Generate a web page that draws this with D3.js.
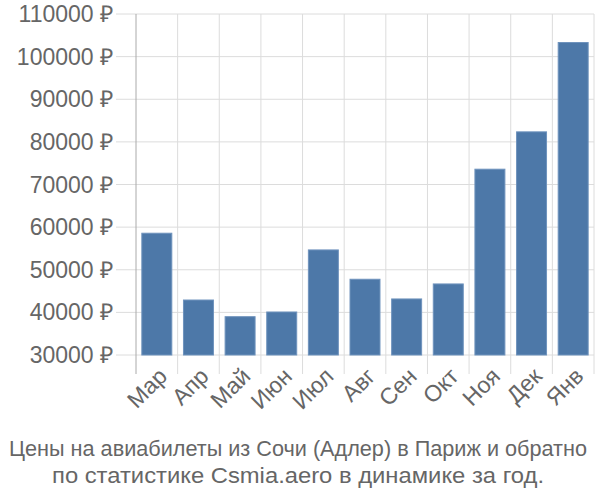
<!DOCTYPE html>
<html><head><meta charset="utf-8">
<script src="https://cdn.jsdelivr.net/npm/d3@7"></script>
<style>body{margin:0;background:#fff}svg{display:block}</style>
</head><body>
<svg id="c" width="600" height="500"></svg>
<script>
const months = ["Мар","Апр","Май","Июн","Июл","Авг","Сен","Окт","Ноя","Дек","Янв"];
const prices = [58570, 42900, 38990, 40090, 54650, 47770, 43150, 46670, 73590, 82350, 103310];
const yTicks = [30000,40000,50000,60000,70000,80000,90000,100000,110000];
const titleLines = ["Цены на авиабилеты из Сочи (Адлер) в Париж и обратно","по статистике Csmia.aero в динамике за год."];

const svg = d3.select("#c");
const font = "'Liberation Sans', Arial, sans-serif";
const x = d3.scaleBand().domain(months).range([136, 594]).padding(0);
const y = d3.scaleLinear().domain([30000, 110000]).range([355, 14]);

// horizontal grid
svg.append("g").selectAll("line").data(yTicks).join("line")
  .attr("x1", 116).attr("x2", 594)
  .attr("y1", d => y(d)).attr("y2", d => y(d))
  .attr("stroke", "#dcdcdc").attr("stroke-width", 1);
// vertical grid
const vx = months.map(m => x(m)).concat([x.range()[1]]);
svg.append("g").selectAll("line").data(vx.slice(1)).join("line")
  .attr("x1", d => d).attr("x2", d => d)
  .attr("y1", 14).attr("y2", 374)
  .attr("stroke", "#dcdcdc").attr("stroke-width", 1);
// left axis line
svg.append("line").attr("x1", 136).attr("x2", 136).attr("y1", 14).attr("y2", 374)
  .attr("stroke", "#aaaaaa").attr("stroke-width", 1);

// bars
const bw = x.bandwidth() * 0.72;
svg.append("g").selectAll("rect").data(months).join("rect")
  .attr("x", m => x(m) + (x.bandwidth() - bw) / 2)
  .attr("width", bw)
  .attr("y", (m, i) => y(prices[i]))
  .attr("height", (m, i) => y(30000) - y(prices[i]))
  .attr("fill", "#4d78a8").attr("stroke", "#6f93bd").attr("stroke-width", 1);

// y labels
svg.append("g").selectAll("text").data(yTicks).join("text")
  .attr("x", 113).attr("y", d => y(d)).attr("dy", "0.35em")
  .attr("text-anchor", "end").attr("fill", "#666").attr("font-family", font).attr("font-size", 23)
  .text(d => d + " ₽");

// x labels
svg.append("g").selectAll("text").data(months).join("text")
  .attr("text-anchor", "end").attr("fill", "#666").attr("font-family", font).attr("font-size", 23)
  .attr("transform", m => `translate(${x(m) + x.bandwidth()/2 + 6},${372}) rotate(-45)`)
  .attr("dy", "0.35em")
  .text(m => m);

// title
const titleW = [578, 492];
svg.append("g").selectAll("text").data(titleLines).join("text")
  .attr("x", 298).attr("y", (d, i) => 456 + i * 27)
  .attr("text-anchor", "middle").attr("fill", "#666").attr("font-family", font).attr("font-size", 22)
  .attr("textLength", (d, i) => titleW[i]).attr("lengthAdjust", "spacingAndGlyphs")
  .text(d => d);
</script>
</body></html>
